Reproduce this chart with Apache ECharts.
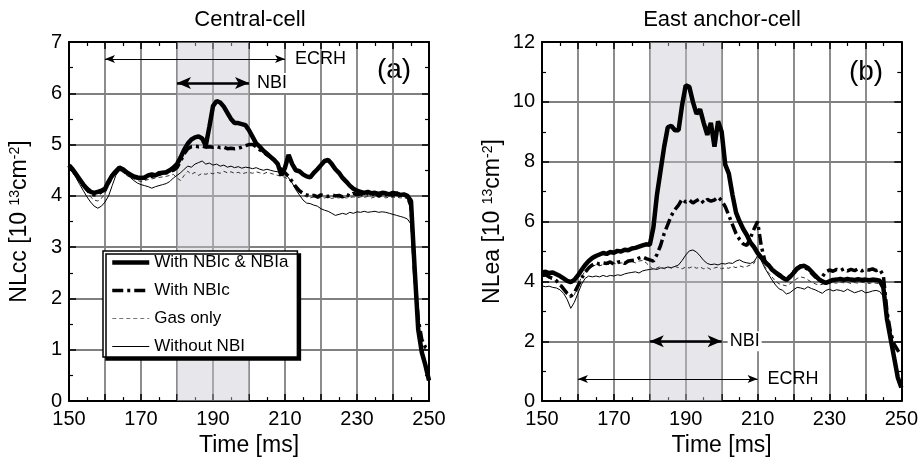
<!DOCTYPE html>
<html>
<head>
<meta charset="utf-8">
<script src="https://cdn.jsdelivr.net/npm/echarts@6/dist/echarts.min.js"></script>
<style>
  html, body { margin: 0; padding: 0; background: #fff; }
  #main { width: 921px; height: 462px; }
</style>
</head>
<body>
<div id="main"></div>
<script>
// time base [ms], 1 ms steps
var times = [
  150,151,152,153,154,155,156,157,158,159,
  160,161,162,163,164,165,166,167,168,169,
  170,171,172,173,174,175,176,177,178,179,
  180,181,182,183,184,185,186,187,188,189,
  190,191,192,193,194,195,196,197,198,199,
  200,201,202,203,204,205,206,207,208,209,
  210,211,212,213,214,215,216,217,218,219,
  220,221,222,223,224,225,226,227,228,229,
  230,231,232,233,234,235,236,237,238,239,
  240,241,242,243,244,245,246,247,248,249,
  250
];

var seriesNames = ['With NBIc & NBIa', 'With NBIc', 'Gas only', 'Without NBI'];

// (a) central cell, NLcc [1e13 cm-2]
var ccBoth = [
  4.60,4.52,4.42,4.32,4.22,4.14,4.08,4.06,4.08,4.10,
  4.14,4.28,4.40,4.48,4.55,4.52,4.46,4.42,4.38,4.36,
  4.35,4.36,4.40,4.42,4.40,4.44,4.45,4.46,4.50,4.55,
  4.62,4.75,4.90,5.02,5.10,5.14,5.16,5.12,4.98,5.35,
  5.75,5.85,5.82,5.74,5.62,5.50,5.42,5.42,5.40,5.38,
  5.28,5.15,5.02,4.96,4.88,4.82,4.76,4.70,4.62,4.40,
  4.55,4.80,4.62,4.50,4.48,4.42,4.38,4.36,4.45,4.52,
  4.60,4.68,4.70,4.62,4.52,4.45,4.35,4.28,4.20,4.14,
  4.10,4.08,4.06,4.08,4.05,4.06,4.04,4.06,4.05,4.03,
  4.06,4.04,4.02,4.03,4.00,3.90,2.60,1.40,0.95,0.70,
  0.40
];
var ccNBIc = [
  4.58,4.50,4.40,4.30,4.20,4.12,4.05,4.02,4.03,4.08,
  4.12,4.25,4.38,4.46,4.52,4.50,4.44,4.40,4.37,4.35,
  4.33,4.35,4.36,4.38,4.40,4.42,4.44,4.45,4.47,4.50,
  4.55,4.68,4.82,4.92,4.96,4.97,4.96,4.97,4.95,4.96,
  4.95,4.96,4.94,4.95,4.92,4.93,4.92,4.93,4.95,4.98,
  5.00,5.00,4.96,4.90,4.85,4.80,4.75,4.70,4.62,4.52,
  4.45,4.38,4.28,4.18,4.10,4.05,4.02,4.00,4.01,3.98,
  4.02,4.00,3.99,4.02,4.00,4.01,3.98,4.03,4.00,4.05,
  4.02,4.04,4.00,4.06,4.02,4.05,4.00,4.04,4.02,4.05,
  4.01,4.06,4.02,4.04,3.98,3.80,2.50,1.60,1.20,1.05,
  1.00
];
var ccGas = [
  4.55,4.48,4.38,4.28,4.18,4.08,3.98,3.92,3.90,3.95,
  4.05,4.20,4.35,4.45,4.50,4.46,4.40,4.36,4.33,4.30,
  4.28,4.30,4.32,4.33,4.35,4.36,4.37,4.38,4.40,4.42,
  4.35,4.30,4.40,4.48,4.42,4.46,4.40,4.44,4.42,4.45,
  4.43,4.46,4.44,4.48,4.45,4.47,4.44,4.46,4.43,4.45,
  4.46,4.44,4.47,4.45,4.43,4.46,4.44,4.42,4.40,4.38,
  4.36,4.32,4.25,4.15,4.08,4.02,3.98,3.96,3.98,3.95,
  3.97,3.96,3.98,3.95,3.97,3.96,3.98,3.96,3.97,3.98,
  3.96,3.98,3.97,3.99,3.96,3.98,3.97,3.99,3.96,3.98,
  3.97,3.98,3.96,3.97,3.94,3.80,2.55,1.38,0.95,0.65,
  0.42
];
var ccNone = [
  4.55,4.46,4.35,4.22,4.10,3.98,3.88,3.80,3.76,3.80,
  3.88,4.00,4.20,4.40,4.50,4.48,4.42,4.36,4.30,4.25,
  4.22,4.20,4.18,4.15,4.18,4.20,4.22,4.24,4.28,4.35,
  4.40,4.45,4.52,4.58,4.56,4.62,4.65,4.68,4.62,4.64,
  4.60,4.62,4.58,4.60,4.56,4.58,4.55,4.57,4.54,4.56,
  4.55,4.53,4.55,4.52,4.50,4.52,4.50,4.48,4.47,4.46,
  4.44,4.35,4.25,4.12,4.02,3.92,3.86,3.85,3.82,3.80,
  3.75,3.72,3.70,3.66,3.62,3.64,3.66,3.64,3.68,3.66,
  3.69,3.68,3.70,3.68,3.69,3.70,3.68,3.69,3.68,3.66,
  3.64,3.62,3.60,3.58,3.55,3.45,2.55,1.38,0.95,0.68,
  0.40
];

// (b) east anchor cell, NLea [1e13 cm-2]
var eaBoth = [
  4.30,4.32,4.28,4.30,4.24,4.18,4.10,4.02,3.98,4.05,
  4.20,4.38,4.55,4.68,4.78,4.85,4.90,4.95,4.92,4.98,
  4.96,5.02,5.00,5.06,5.04,5.10,5.12,5.16,5.20,5.24,
  5.22,5.80,6.90,7.70,8.50,9.15,9.20,9.05,9.05,9.90,
  10.55,10.50,10.00,9.60,9.75,9.30,8.90,9.30,8.50,9.35,
  9.00,7.90,7.60,6.90,6.30,6.00,5.75,5.55,5.30,5.15,
  4.95,4.80,4.65,4.55,4.40,4.30,4.22,4.12,4.05,4.15,
  4.28,4.42,4.50,4.52,4.45,4.33,4.20,4.08,4.00,3.95,
  4.00,4.05,4.06,4.08,4.05,4.08,4.06,4.05,4.07,4.05,
  4.06,4.04,4.06,4.05,4.02,3.80,2.75,2.10,1.45,0.80,
  0.45
];
var eaNBIc = [
  4.20,4.22,4.15,4.10,4.02,3.90,3.75,3.60,3.50,3.62,
  3.85,4.10,4.30,4.45,4.55,4.62,4.58,4.62,4.60,4.65,
  4.58,4.64,4.66,4.60,4.68,4.70,4.72,4.78,4.82,4.76,
  4.72,4.68,4.90,5.20,5.60,5.90,6.20,6.40,6.55,6.75,
  6.65,6.72,6.62,6.70,6.76,6.62,6.74,6.68,6.72,6.82,
  6.70,6.50,6.20,5.90,5.60,5.40,5.25,5.20,5.45,5.75,
  6.00,5.20,4.70,4.50,4.38,4.28,4.18,4.12,4.08,4.18,
  4.32,4.45,4.52,4.48,4.40,4.28,4.15,4.10,4.15,4.32,
  4.38,4.34,4.40,4.36,4.42,4.35,4.40,4.36,4.42,4.35,
  4.40,4.38,4.42,4.36,4.40,4.20,3.00,2.30,1.90,1.70,
  1.55
];
var eaGas = [
  4.15,4.18,4.10,4.06,4.00,3.92,3.80,3.65,3.45,3.55,
  3.85,4.15,4.35,4.45,4.50,4.55,4.52,4.56,4.58,4.55,
  4.60,4.58,4.62,4.60,4.64,4.66,4.62,4.68,4.70,4.62,
  4.50,4.40,4.45,4.50,4.42,4.48,4.44,4.50,4.46,4.42,
  4.48,4.45,4.50,4.44,4.48,4.42,4.46,4.40,4.45,4.48,
  4.42,4.46,4.44,4.50,4.46,4.52,4.48,4.50,4.55,4.60,
  4.85,4.75,4.50,4.30,4.15,4.00,3.92,3.88,3.85,3.92,
  4.00,4.10,4.15,4.12,4.05,3.98,3.92,3.88,3.90,3.95,
  3.92,3.96,3.94,3.98,3.95,3.97,3.93,3.96,3.94,3.97,
  3.95,3.93,3.96,3.94,3.92,3.70,2.60,1.95,1.40,0.90,
  0.55
];
var eaNone = [
  3.85,3.82,3.84,3.80,3.78,3.72,3.60,3.40,3.10,3.30,
  3.60,3.90,4.10,4.18,4.15,4.18,4.15,4.20,4.16,4.20,
  4.18,4.22,4.20,4.25,4.28,4.30,4.32,4.28,4.35,4.38,
  4.40,4.42,4.40,4.45,4.44,4.48,4.46,4.50,4.55,4.70,
  4.88,5.02,5.05,4.98,4.85,4.70,4.60,4.56,4.58,4.55,
  4.60,4.58,4.62,4.60,4.68,4.72,4.65,4.62,4.60,4.66,
  4.85,4.70,4.45,4.25,4.05,3.88,3.75,3.70,3.58,3.62,
  3.72,3.80,3.78,3.74,3.82,3.76,3.72,3.66,3.60,3.70,
  3.74,3.68,3.72,3.70,3.66,3.74,3.68,3.62,3.66,3.70,
  3.62,3.64,3.68,3.70,3.66,3.50,2.60,1.95,1.40,0.85,
  0.50
];

// heating windows [ms]
var nbiSpan = [180, 200];
var ecrhSpan = [160, 210];

var FONT = '"Liberation Sans", Arial, Helvetica, sans-serif';

var myChart = echarts.init(document.getElementById('main'));

function pairs(vals) {
  return times.map(function (t, i) { return [t, vals[i]]; });
}

// x axes: bottom with labels, top mirror with ticks only
function xAxisFor(g, top) {
  return {
    gridIndex: g, type: 'value', min: 150, max: 250, interval: 10,
    position: top ? 'top' : 'bottom',
    axisLine: { show: true, onZero: false, lineStyle: { color: '#000', width: 2 } },
    axisTick: { show: true, inside: true, length: 7, lineStyle: { color: '#000', width: 1.5 } },
    minorTick: { show: true, splitNumber: 2, length: 4, lineStyle: { color: '#000', width: 1.2 } },
    axisLabel: {
      show: !top, fontSize: 20, color: '#000', fontFamily: FONT, margin: 8,
      formatter: function (v) { return (v - 150) % 20 === 0 ? String(v) : ''; }
    },
    splitLine: { show: !top, lineStyle: { color: '#808080', width: 1.8 } },
    name: top ? '' : 'Time [ms]', nameLocation: 'middle', nameGap: 32,
    nameTextStyle: { fontSize: 23, color: '#000', fontFamily: FONT }
  };
}

function yAxisFor(g, right, max, step, name) {
  return {
    gridIndex: g, type: 'value', min: 0, max: max, interval: step,
    position: right ? 'right' : 'left',
    axisLine: { show: true, onZero: false, lineStyle: { color: '#000', width: 2 } },
    axisTick: { show: true, inside: true, length: 7, lineStyle: { color: '#000', width: 1.5 } },
    minorTick: { show: true, splitNumber: 2, length: 4, lineStyle: { color: '#000', width: 1.2 } },
    axisLabel: { show: !right, fontSize: 20, color: '#000', fontFamily: FONT, margin: 7 },
    splitLine: { show: !right, lineStyle: { color: '#808080', width: 1.8 } },
    name: right ? '' : name, nameLocation: 'middle', nameGap: 38,
    nameTextStyle: {
      fontSize: 23, color: '#000', fontFamily: FONT,
      rich: { s: { fontSize: 14, color: '#000', fontFamily: FONT, verticalAlign: 'top' } }
    }
  };
}

var styles = [
  { color: '#000', width: 4.5, type: 'solid' },
  { color: '#000', width: 3.5, type: [11, 4, 3, 4] },
  { color: '#333', width: 1, type: [4, 3] },
  { color: '#000', width: 1, type: 'solid' }
];

function arrowLine(span, y, heavy, text, boxed) {
  var size = heavy ? [9, 14] : [6, 10];
  return [
    {
      coord: [span[0], y], symbolSize: size,
      lineStyle: { color: '#000', width: heavy ? 2.5 : 1, type: 'solid' },
      label: {
        show: true, position: 'end', formatter: text, distance: boxed ? 6 : 10,
        color: '#000', fontSize: 18, fontFamily: FONT,
        backgroundColor: boxed ? '#fff' : 'transparent', padding: boxed ? [1, 2, 1, 2] : 0
      }
    },
    { coord: [span[1], y], symbolSize: size }
  ];
}

function panelSeries(g, sets, nbiY, ecrhY) {
  var out = [];
  // thinner traces first so the heavy trace ends up on top
  for (var i = sets.length - 1; i >= 0; i--) {
    var s = {
      name: seriesNames[i], type: 'line', xAxisIndex: g * 2, yAxisIndex: g * 2,
      data: pairs(sets[i]), symbol: 'none', showSymbol: false,
      lineStyle: styles[i], itemStyle: { color: '#000' }, animation: false
    };
    if (i === 3) {
      s.markArea = {
        silent: true,
        itemStyle: { color: 'rgba(200,200,210,0.45)' },
        data: [[{ xAxis: nbiSpan[0] }, { xAxis: nbiSpan[1] }]]
      };
      s.markLine = {
        silent: true, symbol: ['arrow', 'arrow'], animation: false,
        data: [
          arrowLine(ecrhSpan, ecrhY, false, 'ECRH', false),
          arrowLine(nbiSpan, nbiY, true, 'NBI', true)
        ]
      };
    }
    out.push(s);
  }
  return out;
}

var legendColors = ['#000', '#000', '#777', '#000'];
var legendItems = seriesNames.map(function (n, i) {
  return {
    name: n,
    itemStyle: { opacity: 0 },
    lineStyle: { width: styles[i].width, type: styles[i].type, color: legendColors[i] }
  };
});

var option = {
  animation: false,
  textStyle: { fontFamily: FONT },
  grid: [
    { left: 69, top: 42, width: 360, height: 360 },
    { left: 542, top: 42, width: 360, height: 360 }
  ],
  xAxis: [xAxisFor(0, false), xAxisFor(0, true), xAxisFor(1, false), xAxisFor(1, true)],
  yAxis: [
    yAxisFor(0, false, 7, 1, 'NLcc [10 {s|13}cm{s|-2}]'),
    yAxisFor(0, true, 7, 1, ''),
    yAxisFor(1, false, 12, 2, 'NLea [10 {s|13}cm{s|-2}]'),
    yAxisFor(1, true, 12, 2, '')
  ],
  legend: {
    data: legendItems, orient: 'vertical', left: 103, top: 251,
    selectedMode: false,
    itemWidth: 37, itemHeight: 14, itemGap: 11,
    padding: [3, 9, 2, 7],
    itemStyle: { opacity: 0 },
    backgroundColor: '#fff', borderColor: '#000', borderWidth: 1.5,
    shadowColor: '#000', shadowOffsetX: 3, shadowOffsetY: 3, shadowBlur: 0,
    textStyle: { fontSize: 17, color: '#000', fontFamily: FONT }
  },
  graphic: [
    { type: 'text', x: 250, y: 20, style: { text: 'Central-cell', fontSize: 22, fontFamily: FONT, fill: '#000', textAlign: 'center', textVerticalAlign: 'middle' } },
    { type: 'text', x: 722, y: 20, style: { text: 'East anchor-cell', fontSize: 22, fontFamily: FONT, fill: '#000', textAlign: 'center', textVerticalAlign: 'middle' } },
    { type: 'text', x: 394, y: 70, style: { text: '(a)', fontSize: 28, fontFamily: FONT, fill: '#000', textAlign: 'center', textVerticalAlign: 'middle' } },
    { type: 'text', x: 866, y: 72, style: { text: '(b)', fontSize: 28, fontFamily: FONT, fill: '#000', textAlign: 'center', textVerticalAlign: 'middle' } }
  ],
  series: [].concat(
    panelSeries(0, [ccBoth, ccNBIc, ccGas, ccNone], 6.2, 6.67),
    panelSeries(1, [eaBoth, eaNBIc, eaGas, eaNone], 2.0, 0.74)
  )
};

myChart.setOption(option);
</script>
</body>
</html>
